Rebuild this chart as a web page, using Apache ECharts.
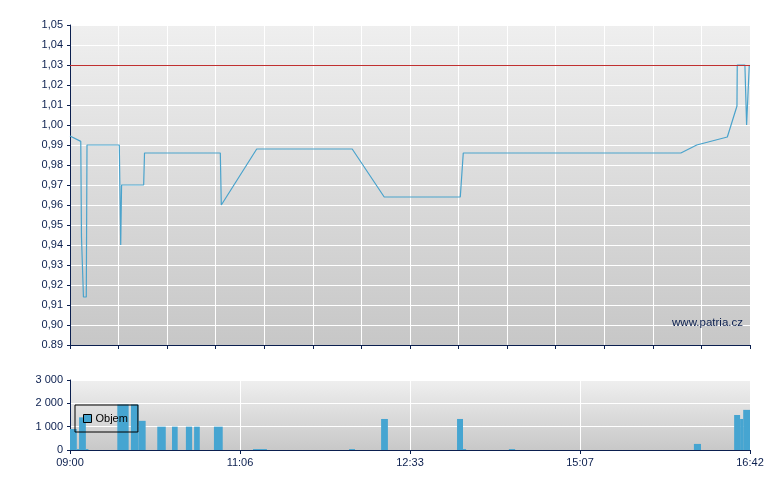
<!DOCTYPE html>
<html>
<head>
<meta charset="utf-8">
<script src="https://cdn.jsdelivr.net/npm/echarts@6/dist/echarts.min.js"></script>
<style>html,body{margin:0;padding:0;background:#fff}#c{width:780px;height:490px}</style>
</head>
<body>
<div id="c"></div>
<script>
// ---- data ----
var timeLabels = ['09:00', '11:06', '12:33', '15:07', '16:42'];
var priceTickLabels = ['0.89','0,90','0,91','0,92','0,93','0,94','0,95','0,96','0,97','0,98','0,99','1,00','1,01','1,02','1,03','1,04','1,05'];
var volTickLabels = ['0', '1 000', '2 000', '3 000'];
var refPrice = 1.03;

// price line: position (trade slot, 0..240) and price
var priceX = [0, 0.5, 3.8, 4.05, 4.6, 4.75, 5.75, 6.0, 17.4, 17.9, 18.2, 26.0, 26.3, 53.05, 53.4, 53.9, 65.9, 99.6, 110.9, 137.75, 138.8, 215.6, 221.2, 232.0, 235.4, 235.5, 238.2, 238.8, 239.5, 239.75];
var priceY = [0.9945, 0.9942, 0.9918, 0.944, 0.944, 0.914, 0.914, 0.990, 0.990, 0.940, 0.970, 0.970, 0.986, 0.986, 0.960, 0.960, 0.988, 0.988, 0.964, 0.964, 0.986, 0.986, 0.990, 0.994, 1.0095, 1.030, 1.030, 1.000, 1.000, 1.030];

// volume bars: slot start, slot end, volume
var volStart = [0, 2.4, 3.2, 5.6, 16.7, 21.5, 24.2, 30.8, 36.0, 40.9, 43.8, 50.8, 64.6, 98.5, 109.8, 136.6, 138.7, 154.9, 220.2, 234.4, 236.5, 237.6];
var volEnd   = [2.4, 3.2, 5.6, 6.5, 20.7, 24.2, 26.7, 33.8, 38.0, 43.1, 45.8, 53.9, 69.5, 100.6, 112.2, 138.7, 139.8, 157.1, 222.7, 236.5, 237.6, 240];
var volValue = [900, 40, 1400, 40, 1950, 1950, 1250, 1000, 1000, 1000, 1000, 1000, 40, 40, 1330, 1330, 40, 40, 260, 1500, 1330, 1720];

// ---- chart ----
var navy = '#0b1f4f';
var font = "'Liberation Sans', Arial, sans-serif";
var priceData = priceX.map(function (x, i) { return [x, priceY[i]]; });
var volData = volStart.map(function (s, i) { return [s, volEnd[i], volValue[i]]; });

function grad(top, bottom) {
  return new echarts.graphic.LinearGradient(0, 0, 0, 1, [
    { offset: 0, color: top }, { offset: 1, color: bottom }
  ]);
}

var chart = echarts.init(document.getElementById('c'), null, { renderer: 'canvas' });
chart.setOption({
  animation: false,
  backgroundColor: '#ffffff',
  textStyle: { fontFamily: font },
  grid: [
    { left: 70, top: 25, width: 680, height: 320, show: true, borderWidth: 0, backgroundColor: grad('#efefef', '#c7c7c7') },
    { left: 70, top: 380, width: 680, height: 70, show: true, borderWidth: 0, backgroundColor: grad('#efefef', '#c8c8c8') }
  ],
  legend: {
    data: ['Objem'],
    left: 75, top: 405,
    orient: 'horizontal',
    padding: [8, 10, 8, 8],
    borderColor: '#000', borderWidth: 1,
    itemWidth: 8, itemHeight: 8, itemGap: 4,
    icon: 'rect',
    itemStyle: { borderColor: '#000', borderWidth: 1 },
    textStyle: { color: '#000', fontSize: 11, fontFamily: font, padding: [0, 0, 0, -1] },
    selectedMode: false
  },
  xAxis: [
    {
      type: 'value', gridIndex: 0, min: 0, max: 240, interval: 240 / 14,
      axisLine: { show: true, lineStyle: { color: navy, width: 1 } },
      axisTick: { show: true, length: 4, lineStyle: { color: navy } },
      axisLabel: { show: false },
      splitLine: { show: true, lineStyle: { color: '#ffffff', width: 1 } }
    },
    {
      type: 'value', gridIndex: 1, min: 0, max: 240, interval: 60,
      axisLine: { show: true, lineStyle: { color: navy, width: 1 } },
      axisTick: { show: true, length: 4, lineStyle: { color: navy } },
      axisLabel: {
        color: navy, fontSize: 11, fontFamily: font, margin: 7,
        formatter: function (v) { return timeLabels[Math.round(v / 60)]; }
      },
      splitLine: { show: true, lineStyle: { color: '#ffffff', width: 1 } }
    }
  ],
  yAxis: [
    {
      type: 'value', gridIndex: 0, min: 0.89, max: 1.05, interval: 0.01,
      axisLine: { show: true, lineStyle: { color: navy, width: 1 } },
      axisTick: { show: true, length: 3, lineStyle: { color: navy } },
      axisLabel: {
        color: navy, fontSize: 11, fontFamily: font, margin: 7,
        formatter: function (v) { return priceTickLabels[Math.round((v - 0.89) * 100)]; }
      },
      splitLine: { show: true, lineStyle: { color: '#ffffff', width: 1 } }
    },
    {
      type: 'value', gridIndex: 1, min: 0, max: 3000, interval: 1000,
      axisLine: { show: true, lineStyle: { color: navy, width: 1 } },
      axisTick: { show: true, length: 3, lineStyle: { color: navy } },
      axisLabel: {
        color: navy, fontSize: 11, fontFamily: font, margin: 7,
        formatter: function (v) { return volTickLabels[Math.round(v / 1000)]; }
      },
      splitLine: { show: true, lineStyle: { color: '#ffffff', width: 1 } }
    }
  ],
  series: [
    {
      name: 'Cena', type: 'line', xAxisIndex: 0, yAxisIndex: 0,
      data: priceData, showSymbol: false, symbol: 'none',
      lineStyle: { color: '#4aa3cc', width: 1.2 },
      markLine: {
        silent: true, symbol: 'none', label: { show: false },
        lineStyle: { color: '#c03030', width: 1, type: 'solid' },
        data: [{ yAxis: refPrice }]
      },
      z: 3
    },
    {
      name: 'Objem', type: 'custom', xAxisIndex: 1, yAxisIndex: 1,
      data: volData,
      encode: { x: [0, 1], y: 2 },
      itemStyle: { color: '#46a5d1' },
      renderItem: function (params, api) {
        var p0 = api.coord([api.value(0), api.value(2)]);
        var p1 = api.coord([api.value(1), 0]);
        return {
          type: 'rect',
          shape: { x: p0[0], y: p0[1], width: p1[0] - p0[0], height: p1[1] - p0[1] },
          style: api.style()
        };
      },
      z: 2
    }
  ],
  graphic: [
    {
      type: 'text', right: 37, top: 317, z: 10,
      style: { text: 'www.patria.cz', fill: navy, font: '11.5px ' + font }
    }
  ]
});
</script>
</body>
</html>
